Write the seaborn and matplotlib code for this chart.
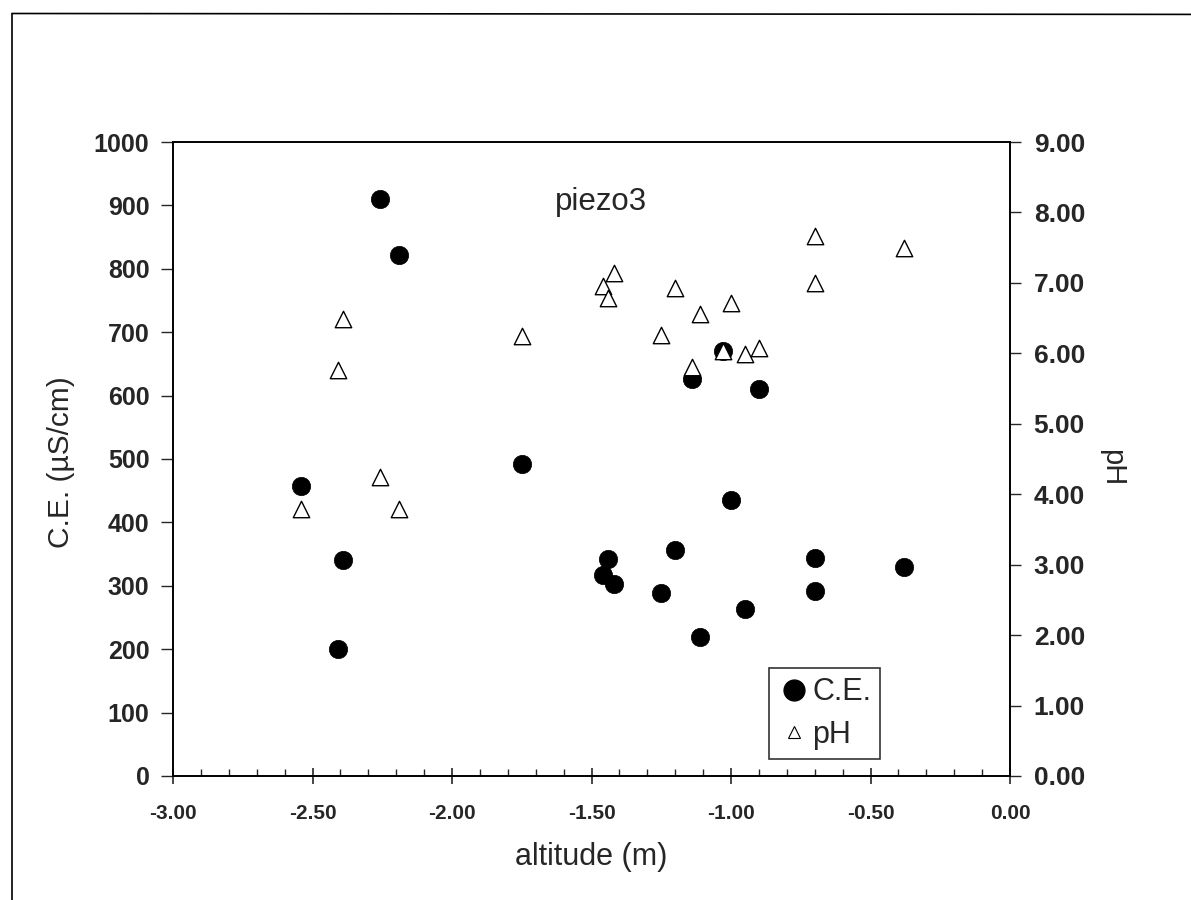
import numpy as np
import matplotlib
matplotlib.use("Agg")
import matplotlib.pyplot as plt
from matplotlib.lines import Line2D
from matplotlib.ticker import MultipleLocator, FormatStrFormatter
import seaborn as sns

# data
altitude = [-2.54, -2.41, -2.39, -2.26, -2.19, -1.75, -1.46, -1.44, -1.42, -1.25,
            -1.20, -1.14, -1.11, -1.03, -1.00, -0.95, -0.90, -0.70, -0.70, -0.38]
ce = [458, 200, 340, 910, 822, 492, 317, 342, 303, 289,
      356, 626, 219, 670, 435, 263, 610, 344, 292, 330]
ph = [3.79, 5.77, 6.49, 4.25, 3.79, 6.25, 6.95, 6.79, 7.14, 6.26,
      6.93, 5.81, 6.56, 6.04, 6.72, 5.99, 6.07, 7.67, 7.00, 7.49]

sns.set_style("white")
plt.rcParams['font.family'] = ['Liberation Sans', 'DejaVu Sans']

fig = plt.figure(figsize=(11.91, 9), dpi=100)
ax = fig.add_axes([0.1453, 0.1378, 0.7028, 0.7044])
ax2 = ax.twinx()

# scanned page frame (top and left edges only)
fig.add_artist(Line2D([0.010, 1.0], [0.985, 0.984], color='black', lw=1.2))
fig.add_artist(Line2D([0.010, 0.010], [0.0, 0.985], color='black', lw=1.2))

sns.scatterplot(x=altitude, y=ce, ax=ax, color='black', marker='o', s=175,
                edgecolor='black', linewidth=0.5, legend=False, zorder=3)
sns.scatterplot(x=altitude, y=ph, ax=ax2, marker='^', s=140, facecolor='white',
                edgecolor='black', linewidth=1.0, legend=False, zorder=2)

ax.set_xlim(-3.0, 0.0)
ax.set_ylim(0, 1000)
ax2.set_ylim(0, 9)

ax.xaxis.set_major_locator(MultipleLocator(0.5))
ax.xaxis.set_minor_locator(MultipleLocator(0.1))
ax.xaxis.set_major_formatter(FormatStrFormatter('%.2f'))
ax.yaxis.set_major_locator(MultipleLocator(100))
ax2.yaxis.set_major_locator(MultipleLocator(1))
ax2.yaxis.set_major_formatter(FormatStrFormatter('%.2f'))

ax.tick_params(axis='x', which='major', direction='inout', length=12, width=1.2,
               labelsize=15, pad=14, bottom=True)
ax.tick_params(axis='x', which='minor', direction='in', length=5, width=1.0, bottom=True)
ax.tick_params(axis='y', which='major', direction='out', length=9, width=1.0,
               labelsize=18, pad=8, left=True)
ax2.tick_params(axis='y', which='major', direction='out', length=8, width=1.0,
                labelsize=19, pad=9, right=True)
for lab in ax.get_xticklabels() + ax.get_yticklabels() + ax2.get_yticklabels():
    lab.set_fontweight('bold')

for a in (ax, ax2):
    for sp in a.spines.values():
        sp.set_color('black')
        sp.set_linewidth(1.2)

ax.set_xlabel('altitude (m)', fontsize=22, va='center')
ax.xaxis.set_label_coords(0.5, -0.128)
ax.set_ylabel('C.E. (µS/cm)', fontsize=21.5, va='center')
ax.yaxis.set_label_coords(-0.134, 0.495)
ax2.set_ylabel('pH', fontsize=21, rotation=270, va='center')
ax2.yaxis.set_label_coords(1.122, 0.486)

ax.text(-1.63, 905, 'piezo3', fontsize=22.5, va='center', ha='left')

handles = [
    Line2D([], [], marker='o', linestyle='none', markerfacecolor='black',
           markeredgecolor='black', markersize=15, label='C.E.'),
    Line2D([], [], marker='^', linestyle='none', markerfacecolor='white',
           markeredgecolor='black', markeredgewidth=0.8, markersize=9, label='pH'),
]
leg = ax.legend(handles=handles, loc='lower left', bbox_to_anchor=(0.7124, 0.027),
                fontsize=22, frameon=True, fancybox=False, handletextpad=0.1,
                handlelength=1.0, borderpad=0.3, labelspacing=0.4, borderaxespad=0)
leg.get_frame().set_edgecolor('black')
leg.get_frame().set_linewidth(1.2)

fig.savefig('out.png', dpi=100)
